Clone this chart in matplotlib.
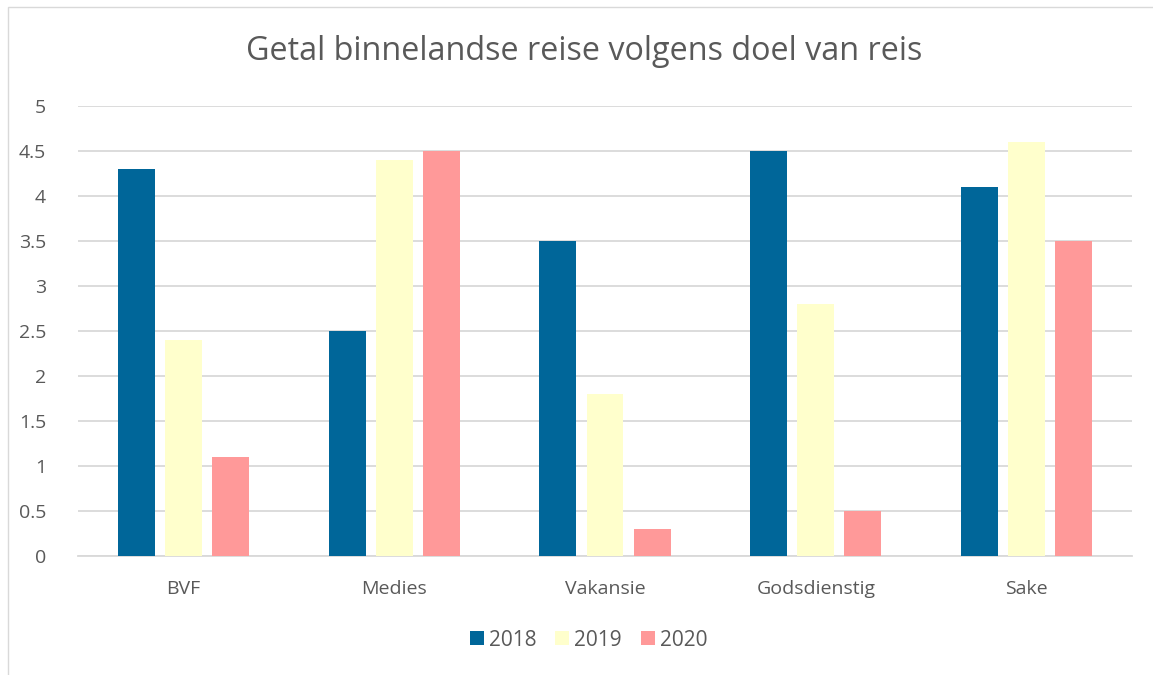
import matplotlib
matplotlib.use("Agg")
import matplotlib.pyplot as plt
import numpy as np
from matplotlib.patches import Rectangle

categories = ["BVF", "Medies", "Vakansie", "Godsdienstig", "Sake"]
series_names = ["2018", "2019", "2020"]
v2018 = [4.3, 2.5, 3.5, 4.5, 4.1]
v2019 = [2.4, 4.4, 1.8, 2.8, 4.6]
v2020 = [1.1, 4.5, 0.3, 0.5, 3.5]
yticks = [0, 0.5, 1, 1.5, 2, 2.5, 3, 3.5, 4, 4.5, 5]
ytick_labels = ["0", "0.5", "1", "1.5", "2", "2.5", "3", "3.5", "4", "4.5", "5"]
title = "Getal binnelandse reise volgens doel van reis"

colors = ["#006699", "#FFFFCC", "#FF9999"]
text_color = "#595959"
plt.rcParams['font.family'] = ['Open Sans', 'DejaVu Sans']

fig = plt.figure(figsize=(11.53, 6.75), dpi=100)
W, H = 1153, 675
ax = fig.add_axes([78 / W, 1 - 556 / H, (1132 - 78) / W, (556 - 106) / H])

x = np.arange(len(categories))
bw = 0.1755
off = 0.223
for i, (vals, c, n) in enumerate(zip([v2018, v2019, v2020], colors, series_names)):
    ax.bar(x + (i - 1) * off, vals, width=bw, color=c, label=n, zorder=3)

ax.set_xlim(-0.5, len(categories) - 0.5)
ax.set_ylim(0, 5)
ax.set_yticks(yticks)
ax.set_yticklabels(ytick_labels)
ax.set_xticks(x)
ax.set_xticklabels(categories)
ax.grid(axis='y', color="#D9D9D9", linewidth=1.3, zorder=0)
ax.set_axisbelow(True)
for s in ["top", "right", "left"]:
    ax.spines[s].set_visible(False)
ax.spines["bottom"].set_color("#D9D9D9")
ax.spines["bottom"].set_linewidth(1.3)
ax.tick_params(axis='both', length=0, labelsize=14, colors=text_color)
ax.tick_params(axis='y', pad=23)
ax.tick_params(axis='x', pad=17)

fig.text(584.5 / W, 1 - 52 / H, title, ha='center', va='center', fontsize=23.3, color=text_color)

leg = fig.legend(loc='center', bbox_to_anchor=(588.5 / W, 1 - 640 / H), ncol=3, frameon=False,
                 fontsize=15, labelcolor=text_color, handlelength=0.67, handleheight=0.67,
                 handletextpad=0.25, columnspacing=0.9)

# chart border (extends past right/bottom edge)
fig.patches.append(Rectangle((8 / W, -0.1), 1.2, 1 - 7 / H + 0.1, transform=fig.transFigure,
                             fill=False, edgecolor="#D9D9D9", linewidth=1.0))

fig.savefig("out.png", dpi=100)
